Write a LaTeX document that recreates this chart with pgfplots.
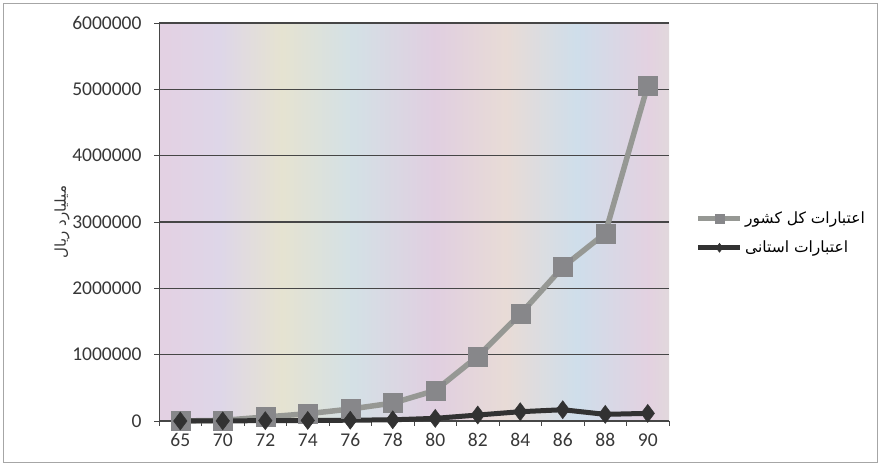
\documentclass[border=0pt]{standalone}
\usepackage{fontspec}
\setmainfont{Carlito}
\newfontfamily\arabicfont[Script=Arabic]{DejaVu Sans}
\TeXXeTstate=1
\usepackage{pgfplots}
\pgfplotsset{compat=1.18}
\definecolor{gridc}{RGB}{70,70,70}
\definecolor{tickc}{RGB}{55,55,55}
\definecolor{grayline}{RGB}{150,152,148}
\definecolor{graymark}{RGB}{135,135,138}
\definecolor{darkline}{RGB}{50,50,50}
\pgfdeclarehorizontalshading{stripes}{100bp}{%
rgb(0bp)=(0.88,0.81,0.87);
rgb(8bp)=(0.91,0.85,0.83);
rgb(15bp)=(0.85,0.89,0.85);
rgb(23bp)=(0.90,0.81,0.88);
rgb(31bp)=(0.87,0.84,0.91);
rgb(37bp)=(0.90,0.89,0.82);
rgb(44bp)=(0.83,0.88,0.90);
rgb(52bp)=(0.88,0.81,0.88);
rgb(59bp)=(0.91,0.86,0.84);
rgb(66bp)=(0.81,0.87,0.92);
rgb(73bp)=(0.89,0.82,0.88);
rgb(79bp)=(0.87,0.90,0.83);
rgb(86bp)=(0.82,0.87,0.92);
rgb(93bp)=(0.88,0.82,0.90);
rgb(100bp)=(0.83,0.89,0.89)}
\begin{document}
\begin{tikzpicture}
\useasboundingbox (0pt,0pt) rectangle (880pt,465pt);
\draw[line width=0.8pt, black!35] (3pt,3pt) rectangle (877pt,462pt);
\node[rotate=90, font=\arabicfont\fontsize{15}{17}\selectfont, text=tickc] at (62pt,243pt) {\beginR میلیارد ریال\endR};
\begin{axis}[
  at={(159pt,44pt)}, anchor=south west,
  scale only axis, width=510pt, height=398pt,
  xmin=-0.5, xmax=11.5, ymin=0, ymax=6000000,
  xtick={0,...,11},
  xticklabels={65,70,72,74,76,78,80,82,84,86,88,90},
  minor xtick={-0.5,0.5,...,11.5},
  ytick={0,1000000,...,6000000},
  scaled y ticks=false,
  yticklabel={\pgfmathprintnumber[fixed,precision=0,1000 sep={}]{\tick}},
  /pgf/number format/assume math mode=true,
  axis background/.style={shade, shading=stripes},
  ymajorgrids, grid style={gridc, line width=1.1pt},
  axis x line*=bottom, axis y line*=left,
  axis line style={gridc, line width=0.9pt},
  tick style={gridc, line width=0.9pt},
  tick align=outside,
  major tick length=5pt, minor tick length=5pt,
  x tick style={draw=none},
  minor x tick style={draw=gridc},
  ticklabel style={font=\fontsize{19.5}{21}\selectfont, text=tickc},
  yticklabel style={xshift=-9pt},
  xticklabel style={yshift=-4pt},
  clip=false,
  legend style={at={(1.052,0.472)}, anchor=west, draw=none, fill=none,
    font=\arabicfont\fontsize{15.5}{17}\selectfont, text=black,
    row sep=12pt, inner sep=0pt, cells={anchor=west}},
  legend cell align=left,
  legend image code/.code={%
    \draw[mark repeat=2, mark phase=2, #1, mark size=4.5pt] plot coordinates {(0pt,0pt) (21pt,0pt) (42pt,0pt)};},
]
\addplot[grayline, line width=5.5pt, mark=square*, mark size=9.5pt,
  mark options={fill=graymark, draw=graymark, line width=0.5pt}]
  coordinates {(0,0) (1,10000) (2,60000) (3,110000) (4,180000) (5,270000) (6,460000) (7,975000) (8,1610000) (9,2320000) (10,2830000) (11,5060000)};
\addlegendentry{\beginR اعتبارات کل کشور\endR}
\addplot[darkline, line width=5pt, mark=diamond*, mark size=9pt,
  mark options={fill=darkline, draw=darkline, line width=0.5pt}]
  coordinates {(0,0) (1,2000) (2,5000) (3,8000) (4,12000) (5,18000) (6,40000) (7,90000) (8,140000) (9,170000) (10,100000) (11,115000)};
\addlegendentry{\beginR اعتبارات استانی\endR}
\end{axis}
\end{tikzpicture}
\end{document}
